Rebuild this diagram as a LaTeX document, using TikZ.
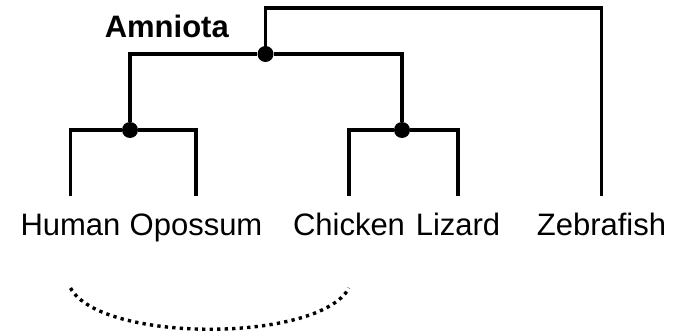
\documentclass[tikz,border=0pt]{standalone}
\usepackage{fontspec}
\setmainfont{Liberation Sans}
\usetikzlibrary{calc}

\tikzset{
  branch/.style={line width=3.2pt, line cap=butt, line join=miter},
  split/.style={circle, fill=black, inner sep=0pt, minimum size=16pt},
  taxon/.style={font=\fontsize{31}{36}\selectfont, inner sep=0pt, text height=22.2pt, outer ysep=17pt, anchor=base},
  clade/.style={font=\fontsize{31}{36}\selectfont\bfseries, inner sep=0pt, anchor=base east},
  link/.style={line width=3.4pt, dash pattern=on 3.3pt off 4.2pt, line cap=butt}
}

\begin{document}
\begin{tikzpicture}[x=1pt, y=-1pt]
  \useasboundingbox (0,0) rectangle (691,332);

  % leaves
  \node[taxon] (human) at (70.5,235) {Human};
  \node[taxon] (opossum) at (196,235) {Opossum};
  \node[taxon] (chicken) at (349,235) {Chicken};
  \node[taxon] (lizard) at (458,235) {Lizard};
  \node[taxon] (zebrafish) at (601.5,235) {Zebrafish};

  % inner splits
  \node[split] (amn) at (265.5,54) {};
  \node[split] (mam) at (130,130) {};
  \node[split] (sau) at (402,130) {};
  \coordinate (root) at (433,8);

  \node[clade] (amniota) at (229,37) {Amniota};

  \draw[branch] (amn.center) |- (root) -| (zebrafish);
  \draw[branch] (mam) |- (amn) -| (sau);
  \draw[branch] (human) |- (mam) -| (opossum);
  \draw[branch] (chicken) |- (sau) -| (lizard);

  % dotted link under the labels
  \coordinate (hu) at ($(human.base)+(0,53)$);
  \coordinate (ch) at ($(chicken.base)+(0,53)$);
  \draw[link] (hu) .. controls +(30,55) and +(-30,55) .. (ch);
\end{tikzpicture}
\end{document}
